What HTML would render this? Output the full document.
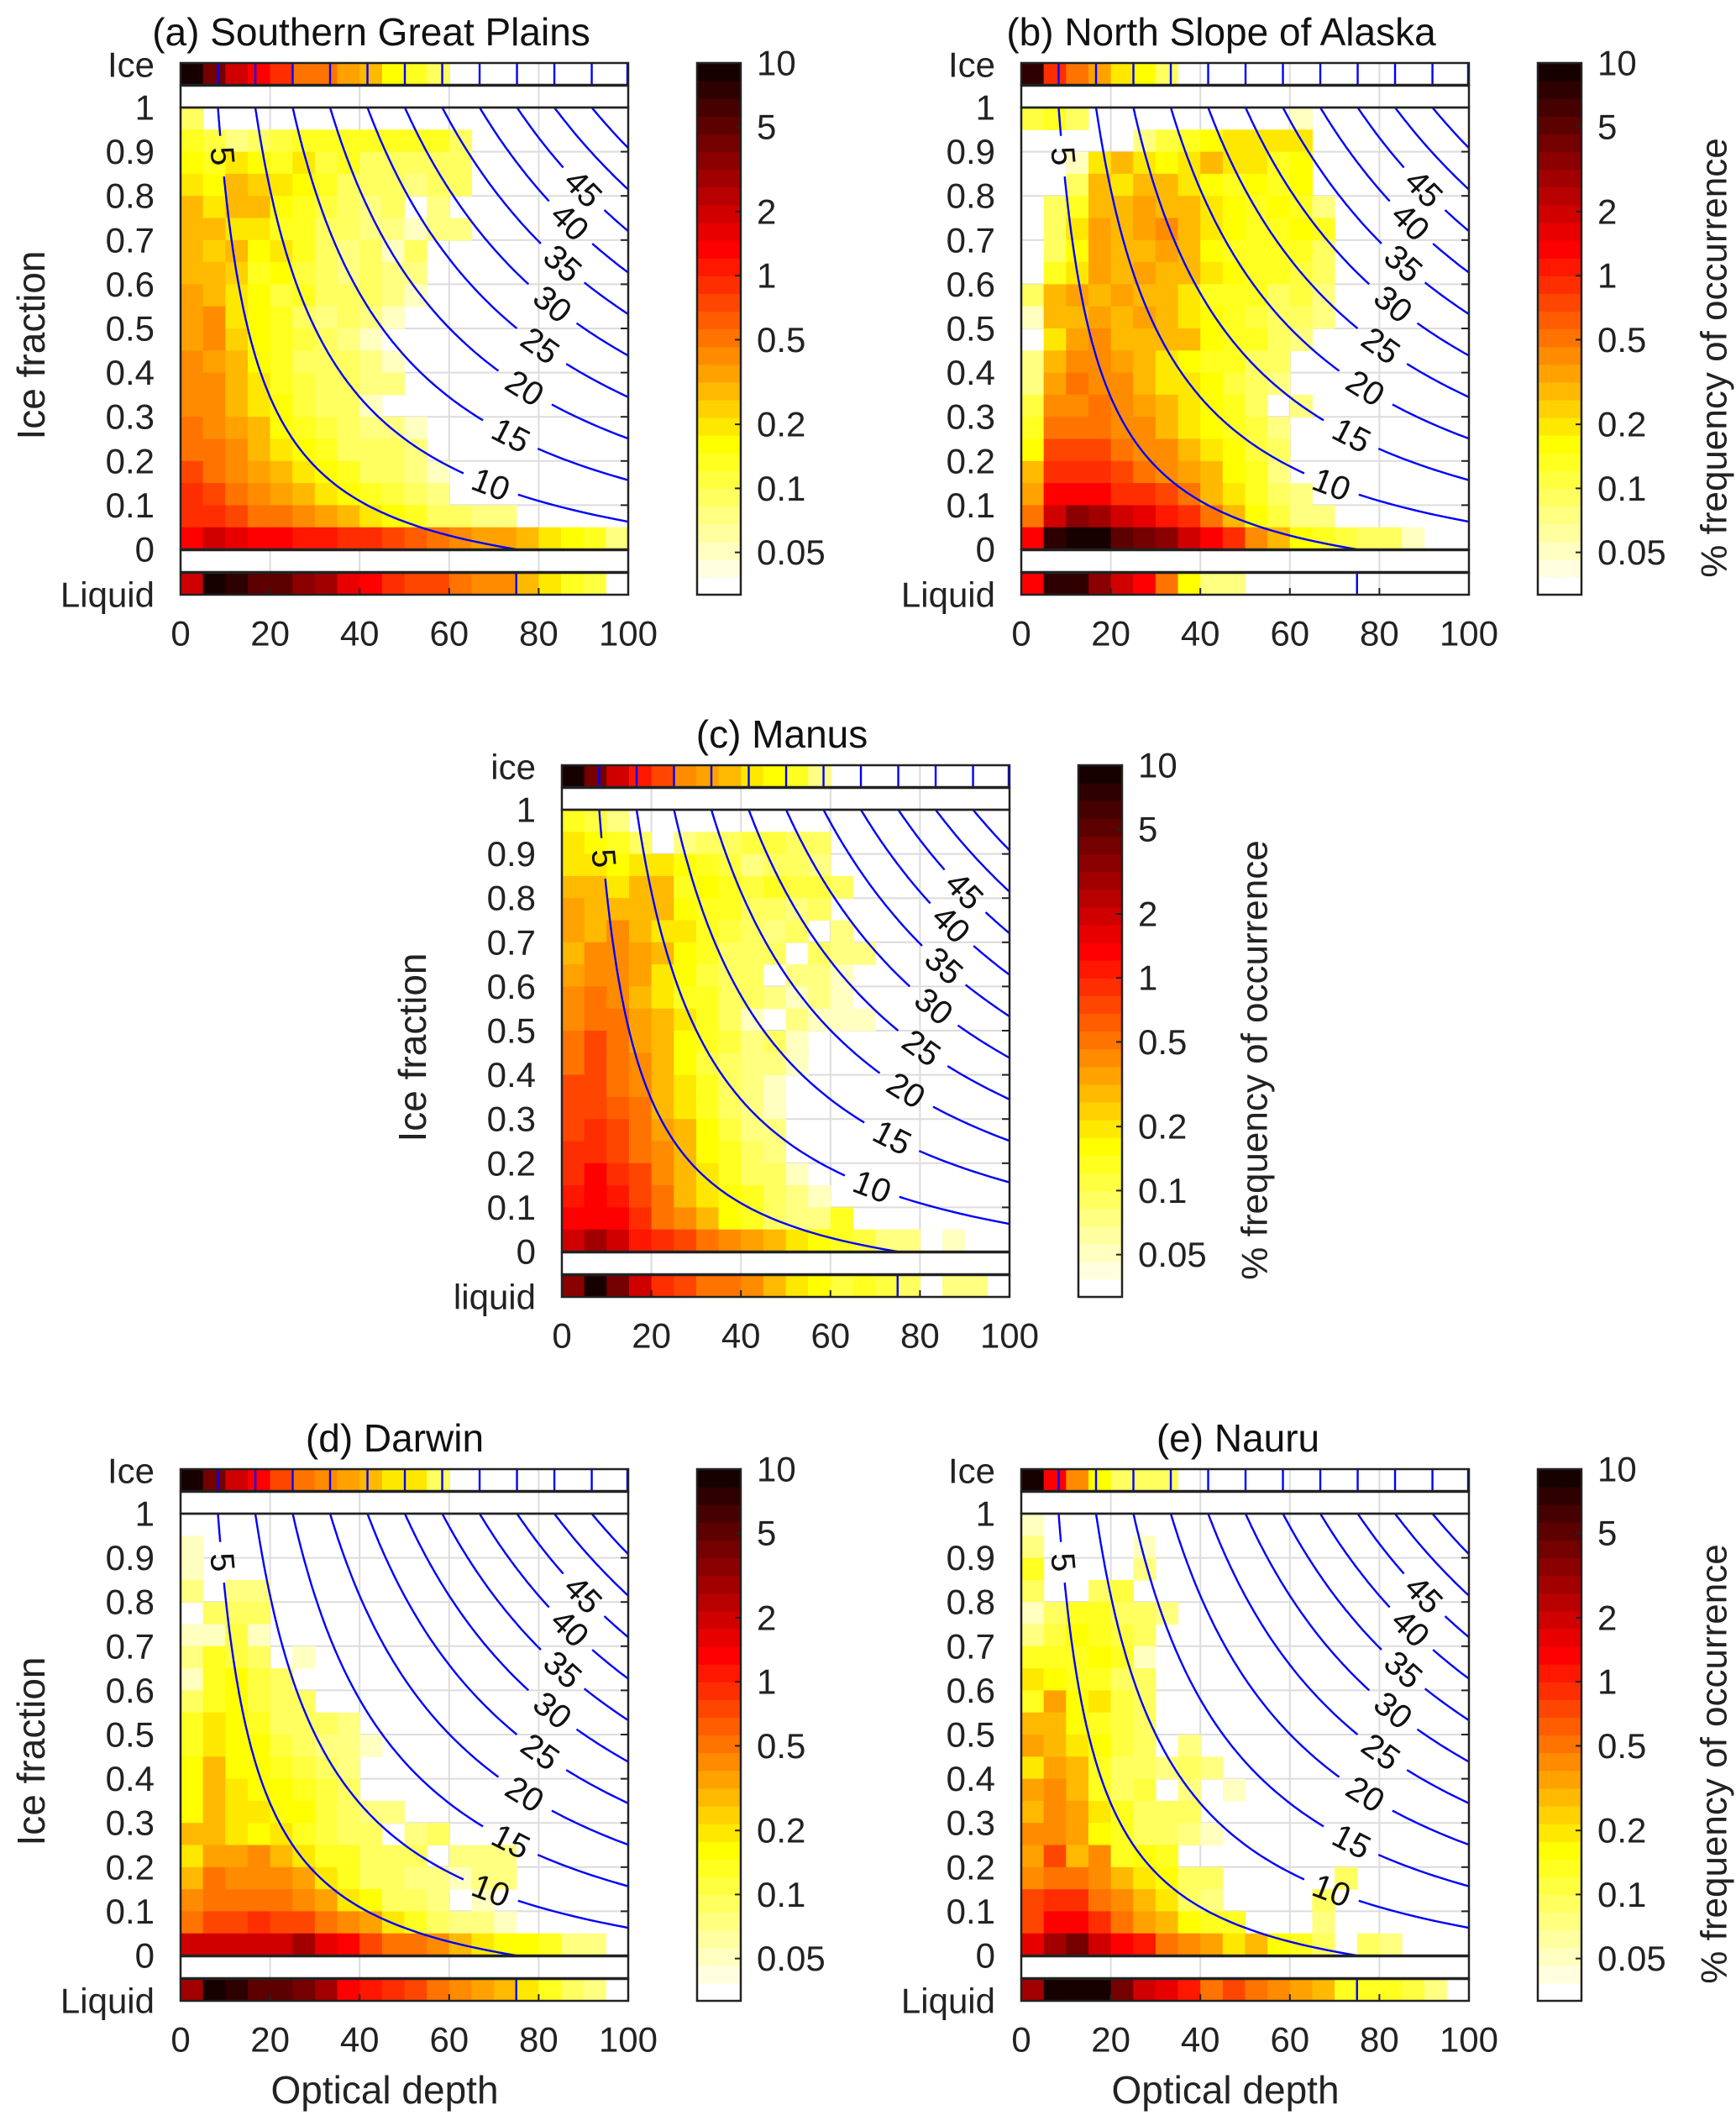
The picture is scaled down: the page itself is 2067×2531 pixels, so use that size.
<!DOCTYPE html>
<html><head><meta charset="utf-8"><title>Ice fraction vs optical depth</title>
<style>html,body{margin:0;padding:0;background:#fff}svg{display:block;font-family:"Liberation Sans",Arial,sans-serif}</style>
</head><body>
<svg id="fig" width="2067" height="2531" viewBox="0 0 2067 2531" xmlns="http://www.w3.org/2000/svg"></svg>
<script>
// ---- data (percent frequency of occurrence), main rows listed top (ice fraction 0.95-1) to bottom (0-0.05)
const xTickLabels=[0,20,40,60,80,100];
const yTickLabels=[0,0.1,0.2,0.3,0.4,0.5,0.6,0.7,0.8,0.9,1];
const cbTickValues=[0.05,0.1,0.2,0.5,1,2,5,10];
const cbTickLabels=["0.05","0.1","0.2","0.5","1","2","5","10"];
const contourLevels=[5,10,15,20,25,30,35,40,45,50,55,60];
const labelLevels=[5,10,15,20,25,30,35,40,45];
const labelIceFraction=[0.89,0.146,0.257,0.364,0.46,0.554,0.646,0.74,0.816];
// colour-reading correction (values were read about one colour step low)
const readCalibration=1.4;

const aIce=[10,3,1.5,1,0.6,0.4,0.35,0.25,0.2,0.12,0.1,0.06,0,0,0,0,0,0,0,0];
const aLiquid=[1.5,6,5,4,3.5,2.5,2,1.2,1,0.6,0.5,0.5,0.35,0.3,0.3,0.2,0.15,0.1,0.08,0];
const aMain=[
[0.06,0,0,0,0,0,0,0,0,0,0,0,0,0,0,0,0,0,0,0],
[0.1,0.08,0.05,0.07,0.08,0.09,0.1,0.1,0.1,0.1,0.1,0.1,0.06,0,0,0,0,0,0,0],
[0.12,0.1,0.13,0.12,0.1,0.15,0.08,0.1,0.07,0.06,0.07,0.06,0.06,0,0,0,0,0,0,0],
[0.15,0.12,0.2,0.18,0.15,0.12,0.1,0.07,0.06,0.06,0.05,0.06,0.06,0,0,0,0,0,0,0],
[0.2,0.15,0.2,0.2,0.12,0.1,0.08,0.07,0.05,0.06,0,0.05,0,0,0,0,0,0,0,0],
[0.2,0.2,0.15,0.15,0.1,0.1,0.07,0.06,0.05,0.05,0.04,0.05,0.05,0,0,0,0,0,0,0],
[0.2,0.18,0.2,0.12,0.15,0.1,0.07,0.05,0.07,0.04,0.06,0,0,0,0,0,0,0,0,0],
[0.2,0.2,0.18,0.1,0.12,0.08,0.07,0.05,0.06,0.05,0.05,0,0,0,0,0,0,0,0,0],
[0.25,0.2,0.15,0.12,0.08,0.1,0.07,0.06,0.06,0.05,0.04,0,0,0,0,0,0,0,0,0],
[0.25,0.3,0.15,0.12,0.1,0.07,0.05,0.07,0.05,0.04,0,0,0,0,0,0,0,0,0,0],
[0.25,0.3,0.18,0.12,0.1,0.08,0.06,0.05,0.04,0,0,0,0,0,0,0,0,0,0,0],
[0.3,0.25,0.2,0.12,0.1,0.06,0.07,0.06,0.05,0.04,0,0,0,0,0,0,0,0,0,0],
[0.3,0.3,0.2,0.15,0.1,0.08,0.06,0.06,0.05,0.05,0,0,0,0,0,0,0,0,0,0],
[0.3,0.3,0.2,0.15,0.12,0.08,0.07,0.06,0.04,0,0,0,0,0,0,0,0,0,0,0],
[0.35,0.3,0.25,0.2,0.12,0.1,0.08,0.06,0.05,0.05,0.04,0,0,0,0,0,0,0,0,0],
[0.4,0.35,0.3,0.2,0.15,0.12,0.1,0.07,0.06,0.06,0.05,0,0,0,0,0,0,0,0,0],
[0.5,0.4,0.3,0.25,0.2,0.15,0.12,0.1,0.07,0.06,0.05,0.04,0,0,0,0,0,0,0,0],
[0.6,0.5,0.4,0.3,0.25,0.2,0.15,0.12,0.1,0.08,0.06,0.05,0,0,0,0,0,0,0,0],
[0.7,0.6,0.5,0.4,0.35,0.3,0.25,0.2,0.15,0.12,0.1,0.06,0.06,0.05,0.05,0,0,0,0,0],
[1,1.5,1.2,1,0.9,0.8,0.8,0.7,0.6,0.5,0.45,0.4,0.3,0.25,0.25,0.2,0.15,0.12,0.1,0.05]];

const bIce=[5,0.6,0.35,0.25,0.15,0.12,0.06,0,0,0,0,0,0,0,0,0,0,0,0,0];
const bLiquid=[1,5,5,2.5,1.5,1,0.35,0.12,0.05,0.05,0,0,0,0,0,0,0,0,0,0];
const bMain=[
[0.08,0.1,0.06,0,0,0,0,0,0,0,0,0,0.04,0,0,0,0,0,0,0],
[0,0,0,0,0,0.05,0.08,0.1,0.12,0.15,0.15,0.15,0.15,0,0,0,0,0,0,0],
[0,0,0.04,0.15,0.2,0.15,0.12,0.15,0.2,0.15,0.15,0.1,0.12,0,0,0,0,0,0,0],
[0,0,0.06,0.2,0.15,0.2,0.2,0.15,0.12,0.1,0.12,0.1,0.12,0,0,0,0,0,0,0],
[0,0.06,0.1,0.2,0.2,0.25,0.2,0.2,0.15,0.12,0.1,0.12,0.1,0.05,0,0,0,0,0,0],
[0,0.06,0.15,0.25,0.2,0.25,0.3,0.2,0.15,0.12,0.1,0.1,0.12,0.1,0,0,0,0,0,0],
[0,0.07,0.12,0.25,0.2,0.2,0.25,0.2,0.12,0.1,0.1,0.1,0.1,0.07,0,0,0,0,0,0],
[0,0.1,0.15,0.25,0.2,0.25,0.2,0.2,0.15,0.12,0.1,0.1,0.08,0.06,0,0,0,0,0,0],
[0.07,0.2,0.25,0.2,0.25,0.2,0.2,0.15,0.1,0.1,0.1,0.07,0.08,0.05,0,0,0,0,0,0],
[0.04,0.2,0.2,0.25,0.2,0.25,0.2,0.15,0.12,0.1,0.08,0.07,0.06,0.05,0,0,0,0,0,0],
[0,0.15,0.25,0.3,0.2,0.2,0.2,0.2,0.12,0.1,0.1,0.06,0.05,0,0,0,0,0,0,0],
[0.05,0.2,0.3,0.3,0.25,0.2,0.15,0.12,0.1,0.1,0.06,0.06,0,0,0,0,0,0,0,0],
[0.05,0.25,0.4,0.3,0.3,0.2,0.15,0.15,0.12,0.08,0.06,0.05,0,0,0,0,0,0,0,0],
[0.08,0.3,0.3,0.4,0.3,0.25,0.2,0.15,0.12,0.1,0.07,0,0.05,0,0,0,0,0,0,0],
[0.1,0.4,0.4,0.4,0.3,0.3,0.2,0.15,0.12,0.1,0.08,0.05,0,0,0,0,0,0,0,0],
[0.12,0.5,0.5,0.5,0.4,0.3,0.3,0.2,0.15,0.12,0.08,0.06,0,0,0,0,0,0,0,0],
[0.2,0.6,0.7,0.6,0.5,0.4,0.3,0.25,0.2,0.12,0.1,0.05,0,0,0,0,0,0,0,0],
[0.25,1,1,1,0.7,0.6,0.5,0.35,0.2,0.15,0.1,0.06,0.05,0,0,0,0,0,0,0],
[0.4,1.5,2.5,2,1.5,1.2,0.8,0.6,0.4,0.2,0.12,0.08,0.05,0.05,0,0,0,0,0,0],
[1,5,8,6,4,3,2.5,1.5,1,0.6,0.3,0.2,0.12,0.1,0.08,0.07,0.06,0.04,0,0]];

const cIce=[10,3,1.5,0.8,0.5,0.3,0.25,0.2,0.15,0.12,0.1,0.05,0,0,0,0,0,0,0,0];
const cLiquid=[2.5,6,3,1.5,0.7,0.5,0.35,0.35,0.3,0.2,0.15,0.12,0.08,0.1,0.08,0.07,0,0.05,0.05,0];
const cMain=[
[0.1,0.08,0.05,0,0,0,0,0,0,0,0,0,0,0,0,0,0,0,0,0],
[0.15,0.12,0.1,0.06,0,0.05,0.06,0.07,0.08,0.08,0.07,0.06,0,0,0,0,0,0,0,0],
[0.15,0.15,0.12,0.15,0.15,0.12,0.1,0.08,0.05,0.06,0.07,0.05,0,0,0,0,0,0,0,0],
[0.2,0.2,0.15,0.2,0.2,0.1,0.12,0.1,0.08,0.1,0.08,0.08,0.06,0,0,0,0,0,0,0],
[0.25,0.2,0.2,0.2,0.2,0.12,0.1,0.1,0.06,0.07,0.05,0.06,0,0,0,0,0,0,0,0],
[0.25,0.2,0.3,0.2,0.15,0.15,0.1,0.08,0.06,0.05,0.07,0,0.05,0,0,0,0,0,0,0],
[0.2,0.3,0.3,0.25,0.2,0.12,0.1,0.07,0.07,0.06,0,0.06,0.05,0.05,0,0,0,0,0,0],
[0.25,0.3,0.3,0.25,0.15,0.12,0.08,0.07,0.06,0,0.05,0.05,0.04,0,0,0,0,0,0,0],
[0.3,0.4,0.3,0.2,0.15,0.1,0.1,0.07,0.06,0.05,0.04,0.05,0.04,0,0,0,0,0,0,0],
[0.3,0.4,0.35,0.25,0.2,0.15,0.1,0.07,0.04,0,0.05,0.04,0.04,0.04,0,0,0,0,0,0],
[0.4,0.5,0.35,0.25,0.2,0.12,0.1,0.08,0.05,0.06,0.04,0,0,0,0,0,0,0,0,0],
[0.4,0.5,0.4,0.3,0.2,0.12,0.08,0.06,0.05,0.05,0.04,0,0,0,0,0,0,0,0,0],
[0.5,0.5,0.4,0.3,0.2,0.15,0.1,0.06,0.05,0.04,0,0,0,0,0,0,0,0,0,0],
[0.5,0.5,0.45,0.35,0.2,0.15,0.1,0.07,0.05,0.04,0,0,0,0,0,0,0,0,0,0],
[0.5,0.6,0.5,0.4,0.25,0.2,0.12,0.08,0.05,0.05,0,0,0,0,0,0,0,0,0,0],
[0.6,0.6,0.5,0.4,0.3,0.2,0.12,0.1,0.06,0.05,0,0,0,0,0,0,0,0,0,0],
[0.7,0.9,0.6,0.5,0.3,0.2,0.15,0.1,0.07,0.06,0.04,0,0,0,0,0,0,0,0,0],
[0.8,1,0.8,0.5,0.4,0.2,0.15,0.12,0.1,0.06,0.05,0.04,0,0,0,0,0,0,0,0],
[1,1,1,0.6,0.4,0.3,0.2,0.12,0.1,0.07,0.05,0.05,0.1,0,0,0,0,0,0,0],
[1.5,2,1.5,0.8,0.6,0.5,0.4,0.3,0.25,0.2,0.15,0.12,0.1,0.08,0.05,0.05,0,0.04,0,0]];

const dIce=[10,3,1.5,1,0.5,0.4,0.3,0.25,0.2,0.15,0.15,0.06,0,0,0,0,0,0,0,0];
const dLiquid=[2,8,5,4,4,3,2,1,0.8,0.6,0.5,0.4,0.3,0.25,0.2,0.15,0.1,0.06,0.05,0];
const dMain=[
[0,0,0,0,0,0,0,0,0,0,0,0,0,0,0,0,0,0,0,0],
[0.04,0,0,0,0,0,0,0,0,0,0,0,0,0,0,0,0,0,0,0],
[0.04,0,0,0,0,0,0,0,0,0,0,0,0,0,0,0,0,0,0,0],
[0.05,0,0.05,0.05,0,0,0,0,0,0,0,0,0,0,0,0,0,0,0,0],
[0,0.07,0.07,0.06,0,0,0,0,0,0,0,0,0,0,0,0,0,0,0,0],
[0.04,0.04,0.08,0.04,0,0,0,0,0,0,0,0,0,0,0,0,0,0,0,0],
[0.05,0.1,0.08,0.07,0,0.04,0,0,0,0,0,0,0,0,0,0,0,0,0,0],
[0.04,0.1,0.12,0.08,0.06,0,0,0,0,0,0,0,0,0,0,0,0,0,0,0],
[0.07,0.1,0.12,0.08,0.07,0.06,0,0,0,0,0,0,0,0,0,0,0,0,0,0],
[0.1,0.15,0.12,0.1,0.06,0.06,0.06,0.05,0,0,0,0,0,0,0,0,0,0,0,0],
[0.1,0.15,0.12,0.12,0.08,0.07,0.05,0.05,0.04,0,0,0,0,0,0,0,0,0,0,0],
[0.12,0.2,0.12,0.12,0.1,0.08,0.07,0.05,0,0,0,0,0,0,0,0,0,0,0,0],
[0.12,0.2,0.15,0.12,0.12,0.1,0.08,0.06,0,0,0,0,0,0,0,0,0,0,0,0],
[0.12,0.2,0.15,0.15,0.12,0.12,0.08,0.07,0.05,0.05,0,0,0,0,0,0,0,0,0,0],
[0.2,0.2,0.15,0.12,0.15,0.1,0.08,0.06,0.06,0,0.05,0.06,0,0,0,0,0,0,0,0],
[0.15,0.25,0.25,0.3,0.2,0.15,0.1,0.1,0.07,0.06,0.06,0,0.05,0.05,0.05,0,0,0,0,0],
[0.2,0.35,0.3,0.3,0.3,0.25,0.15,0.1,0.07,0.06,0.05,0.05,0.04,0.05,0.05,0,0,0,0,0],
[0.3,0.4,0.4,0.4,0.35,0.3,0.25,0.15,0.12,0.07,0.06,0.05,0,0.04,0,0,0,0,0,0],
[0.4,0.5,0.5,0.6,0.5,0.5,0.4,0.3,0.25,0.15,0.1,0.07,0.05,0.05,0.04,0,0,0,0,0],
[1.5,1.5,1.5,1.5,1.5,2,1.2,1,0.5,0.4,0.35,0.3,0.2,0.15,0.12,0.12,0.1,0.05,0.05,0]];

const eIce=[10,1,0.3,0.12,0.07,0.06,0.06,0,0,0,0,0,0,0,0,0,0,0,0,0];
const eLiquid=[2,10,10,6,3,1.5,1.2,0.8,0.4,0.5,0.35,0.3,0.25,0.2,0.1,0.1,0.1,0.08,0.05,0];
const eMain=[
[0.04,0,0,0,0,0,0,0,0,0,0,0,0,0,0,0,0,0,0,0],
[0.05,0,0,0,0,0.04,0,0,0,0,0,0,0,0,0,0,0,0,0,0],
[0.1,0,0,0,0,0.05,0,0,0,0,0,0,0,0,0,0,0,0,0,0],
[0.06,0,0,0.07,0.08,0,0,0,0,0,0,0,0,0,0,0,0,0,0,0],
[0.04,0.06,0.1,0.1,0.06,0.06,0.05,0,0,0,0,0,0,0,0,0,0,0,0,0],
[0.05,0.08,0.12,0.1,0.08,0.06,0,0,0,0,0,0,0,0,0,0,0,0,0,0],
[0.1,0.1,0.1,0.12,0.1,0.04,0,0,0,0,0,0,0,0,0,0,0,0,0,0],
[0.15,0.12,0.1,0.1,0.07,0.06,0,0,0,0,0,0,0,0,0,0,0,0,0,0],
[0.1,0.25,0.12,0.15,0.08,0.06,0,0,0,0,0,0,0,0,0,0,0,0,0,0],
[0.2,0.2,0.12,0.1,0.08,0.06,0,0,0,0,0,0,0,0,0,0,0,0,0,0],
[0.25,0.2,0.15,0.12,0.08,0.07,0,0.05,0,0,0,0,0,0,0,0,0,0,0,0],
[0.15,0.25,0.2,0.1,0.07,0.06,0.05,0.06,0.05,0,0,0,0,0,0,0,0,0,0,0],
[0.25,0.3,0.2,0.1,0.06,0.08,0,0.05,0,0.04,0,0,0,0,0,0,0,0,0,0],
[0.2,0.3,0.25,0.15,0.1,0.06,0.06,0.06,0,0,0,0,0,0,0,0,0,0,0,0],
[0.3,0.3,0.25,0.12,0.1,0.07,0.06,0.05,0.04,0,0,0,0,0,0,0,0,0,0,0],
[0.25,0.5,0.2,0.3,0.1,0.12,0.1,0,0,0,0,0,0,0,0,0,0,0,0,0],
[0.3,0.4,0.4,0.3,0.2,0.15,0.12,0.06,0.06,0,0,0,0,0,0.06,0,0,0,0,0],
[0.5,0.6,0.6,0.4,0.3,0.2,0.15,0.07,0.05,0,0,0,0,0.06,0,0,0,0,0,0],
[0.5,0.9,1,0.6,0.4,0.25,0.2,0.12,0.1,0.1,0,0,0,0.05,0,0,0,0,0,0],
[1.2,2,3,1.5,1,0.8,0.4,0.3,0.25,0.15,0.2,0.12,0.1,0.06,0,0.06,0.05,0,0,0]];

const panels=[
 {id:"a",title:"(a) Southern Great Plains",L:215,T:128,tx:227,main:aMain,ice:aIce,liq:aLiquid,iceLab:"Ice",liqLab:"Liquid",ylab:true,cblab:false,xlab:false},
 {id:"b",title:"(b) North Slope of Alaska",L:1216,T:128,tx:238,main:bMain,ice:bIce,liq:bLiquid,iceLab:"Ice",liqLab:"Liquid",ylab:false,cblab:true,xlab:false},
 {id:"c",title:"(c) Manus",L:669,T:964,tx:262,main:cMain,ice:cIce,liq:cLiquid,iceLab:"ice",liqLab:"liquid",ylab:true,cblab:true,xlab:false},
 {id:"d",title:"(d) Darwin",L:215,T:1802,tx:255,main:dMain,ice:dIce,liq:dLiquid,iceLab:"Ice",liqLab:"Liquid",ylab:true,cblab:false,xlab:true},
 {id:"e",title:"(e) Nauru",L:1216,T:1802,tx:258,main:eMain,ice:eIce,liq:eLiquid,iceLab:"Ice",liqLab:"Liquid",ylab:false,cblab:true,xlab:true}];

// ---- colormap: MATLAB hot(30), reversed (low = white)
const NC=30, LMIN=-1.5, LMAX=1;
const hotMap=(function(){const m=NC,n=Math.floor(3/8*m),out=[];for(let i=0;i<m;i++){const r=i<n?(i+1)/n:1;const g=i<n?0:(i<2*n?(i-n+1)/n:1);const b=i<2*n?0:(i-2*n+1)/(m-2*n);out.push("rgb("+Math.round(r*255)+","+Math.round(g*255)+","+Math.round(b*255)+")");}return out;})();
function colorIndex(v){if(!(v>0))return 0;let k=Math.floor((Math.log10(v)-LMIN)/(LMAX-LMIN)*NC);return Math.max(0,Math.min(NC-1,k));}
function colorOf(v){return hotMap[NC-1-colorIndex(v*readCalibration)];}

const W=533,H=526,NS="http://www.w3.org/2000/svg";
const svg=document.getElementById("fig");
function mk(parent,tag,attrs,text){const e=document.createElementNS(NS,tag);for(const k in attrs)e.setAttribute(k,attrs[k]);if(text!==undefined)e.textContent=text;parent.appendChild(e);return e;}
function gfun(f){return (1-f)/15+f/1.67;}

panels.forEach(p=>{
 const L=p.L,T=p.T;
 const xS=t=>L+t/100*W;
 const yS=f=>T+(1-f)*H;
 const grp=mk(svg,"g",{});
 
 
 const ti=mk(grp,"text",{x:L+p.tx,y:T-90,"font-size":46,"text-anchor":"middle","dominant-baseline":"central",fill:"#111"},p.title);
 
 
 const iceTop=T-53,iceH=26,topGapY=T-26,botGapY=T+H+1,liqY=T+H+28;
 const gridG=mk(grp,"g",{stroke:"#dcdcdc","stroke-width":2});
 
 
 xTickLabels.forEach(t=>{if(t>0&&t<100){mk(gridG,"line",{x1:xS(t),x2:xS(t),y1:topGapY,y2:T+H+54});mk(gridG,"line",{x1:xS(t),x2:xS(t),y1:iceTop,y2:iceTop+iceH});}});
 yTickLabels.forEach(f=>{if(f>0&&f<1)mk(gridG,"line",{x1:L,x2:L+W,y1:yS(f),y2:yS(f)});});
 const hm=mk(grp,"g",{});
 
 
 p.main.forEach((row,j)=>{row.forEach((v,i)=>{if(!(v>0))return;
   const fTop=1-j*0.05,fBot=1-(j+1)*0.05;
   const r=mk(hm,"rect",{x:xS(i*5),y:yS(fTop),width:xS((i+1)*5)-xS(i*5)+0.6,height:yS(fBot)-yS(fTop)+0.6,fill:colorOf(v)});
   
   
 });});
 const strip=(arr,y,name)=>{arr.forEach((v,i)=>{if(!(v>0))return;
   const r=mk(grp,"rect",{x:xS(i*5),y:y,width:xS((i+1)*5)-xS(i*5)+0.6,height:iceH,fill:colorOf(v)});
   
   
 });};
 strip(p.ice,iceTop,'ice-strip-cell');
 strip(p.liq,liqY,'liquid-strip-cell');
 const defs=mk(grp,"defs",{});
 const cp=mk(defs,"clipPath",{id:"clip"+p.id});
 mk(cp,"rect",{x:L,y:T,width:W,height:H});
 const cg=mk(grp,"g",{"clip-path":"url(#clip"+p.id+")",fill:"none",stroke:"#0000ff","stroke-width":2.4});
 
 
 const labPts={};
 labelLevels.forEach((q,k)=>{const f=labelIceFraction[k];const t=q/gfun(f);
   const x1=xS(q/gfun(f+0.01)),y1=yS(f+0.01),x2=xS(q/gfun(f-0.01)),y2=yS(f-0.01);
   labPts[q]={x:xS(t),y:yS(f),a:Math.atan2(y2-y1,x2-x1)*180/Math.PI,r:q<10?24:34};});
 contourLevels.forEach(q=>{
   let d="",pen=false;
   for(let f=1.02;f>=-0.0001;f-=0.004){const t=q/gfun(Math.max(0,f));
     const x=xS(Math.min(t,101)),y=yS(f);
     const lp=labPts[q];let gap=false;
     if(lp){const dx=x-lp.x,dy=y-lp.y;if(dx*dx+dy*dy<lp.r*lp.r)gap=true;}
     if(t>101.5||gap){pen=false;continue;}
     d+=(pen?"L":"M")+x.toFixed(1)+" "+y.toFixed(1);pen=true;}
   const pa=mk(cg,"path",{d:d});
   
   
 });
 labelLevels.forEach(q=>{const lp=labPts[q];
   const tx=mk(grp,"text",{x:lp.x,y:lp.y,"font-size":40,"text-anchor":"middle","dominant-baseline":"central",fill:"#111",transform:"rotate("+lp.a.toFixed(1)+" "+lp.x.toFixed(1)+" "+lp.y.toFixed(1)+")"},String(q));
   
   
 });
 const sl=mk(grp,"g",{stroke:"#0000ff","stroke-width":2.4});
 
 
 contourLevels.forEach(q=>{const t=q/gfun(1);if(t<=100.5){const x=Math.min(xS(t),L+W-1);mk(sl,"line",{x1:x,x2:x,y1:iceTop,y2:iceTop+iceH});}
   const t0=q/gfun(0);if(t0<=100){mk(sl,"line",{x1:xS(t0),x2:xS(t0),y1:liqY,y2:liqY+iceH});}});
 const fr=mk(grp,"g",{fill:"none",stroke:"#222","stroke-width":2.5});
 
 
 mk(fr,"rect",{x:L,y:iceTop,width:W,height:iceH});
 mk(fr,"rect",{x:L,y:topGapY,width:W,height:26});
 mk(fr,"rect",{x:L,y:T,width:W,height:H});
 mk(fr,"rect",{x:L,y:botGapY,width:W,height:26});
 mk(fr,"rect",{x:L,y:liqY,width:W,height:iceH});
 yTickLabels.forEach(f=>{if(f>0&&f<1){mk(fr,"line",{x1:L+W-9,x2:L+W,y1:yS(f),y2:yS(f),"stroke-width":2});}});
 xTickLabels.forEach(t=>{if(t>0&&t<100){mk(fr,"line",{x1:xS(t),x2:xS(t),y1:liqY+iceH-8,y2:liqY+iceH,"stroke-width":2});}});
 yTickLabels.forEach(f=>{const tl=mk(grp,"text",{x:L-31,y:yS(f),"font-size":42,"text-anchor":"end","dominant-baseline":"central",fill:"#222"},String(f));
   
   });
 xTickLabels.forEach(t=>{const tl=mk(grp,"text",{x:xS(t),y:T+626,"font-size":42,"text-anchor":"middle","dominant-baseline":"central",fill:"#222"},String(t));
   
   });
 const il=mk(grp,"text",{x:L-31,y:T-51,"font-size":42,"text-anchor":"end","dominant-baseline":"central",fill:"#222"},p.iceLab);
 
 
 const ll=mk(grp,"text",{x:L-31,y:T+580,"font-size":42,"text-anchor":"end","dominant-baseline":"central",fill:"#222"},p.liqLab);
 
 
 if(p.ylab){const yl=mk(grp,"text",{x:L-178,y:T+283,"font-size":46,"text-anchor":"middle","dominant-baseline":"central",fill:"#222",transform:"rotate(-90 "+(L-178)+" "+(T+283)+")"},"Ice fraction");
   
   }
 if(p.xlab){const xl=mk(grp,"text",{x:L+243,y:T+686,"font-size":46,"text-anchor":"middle","dominant-baseline":"central",fill:"#222"},"Optical depth");
   
   }
 const cbX=L+615,cbW=52,cbTop=T-53,cbBot=T+H+54,cbH=cbBot-cbTop;
 const cbY=l=>cbBot-(l-LMIN)/(LMAX-LMIN)*cbH;
 const cb=mk(grp,"g",{});
 
 
 for(let k=0;k<NC;k++){const l0=LMIN+k*(LMAX-LMIN)/NC,l1=LMIN+(k+1)*(LMAX-LMIN)/NC;
   const r=mk(cb,"rect",{x:cbX,y:cbY(l1),width:cbW,height:cbY(l0)-cbY(l1)+0.6,fill:hotMap[NC-1-k]});
   
   }
 mk(cb,"rect",{x:cbX,y:cbTop,width:cbW,height:cbH,fill:"none",stroke:"#222","stroke-width":2.5});
 cbTickValues.forEach((v,k)=>{const y=cbY(Math.log10(v));
   mk(cb,"line",{x1:cbX+cbW-7,x2:cbX+cbW,y1:y,y2:y,stroke:"#222","stroke-width":2});
   const tl=mk(cb,"text",{x:cbX+cbW+19,y:y,"font-size":42,"dominant-baseline":"central",fill:"#222"},cbTickLabels[k]);
   
   });
 if(p.cblab){const cx=L+825,cy=T+298;
   const cl=mk(grp,"text",{x:cx,y:cy,"font-size":44,"text-anchor":"middle","dominant-baseline":"central",fill:"#222",transform:"rotate(-90 "+cx+" "+cy+")"},"% frequency of occurrence");
   
   }
});
</script>
</body></html>
